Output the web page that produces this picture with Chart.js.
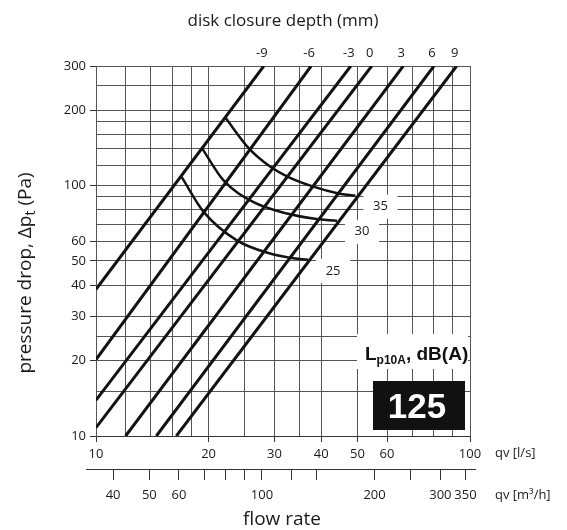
<!DOCTYPE html>
<html><head><meta charset="utf-8">
<script src="https://cdn.jsdelivr.net/npm/chart.js@4.4.1/dist/chart.umd.min.js"></script>
<style>html,body{margin:0;padding:0;background:#fff;}#wrap{width:567px;height:530px;}</style>
</head><body><div id="wrap"><canvas id="c" width="567" height="530"></canvas></div>
<script>
// ---- data ----
const closureLabels = ['-9', '-6', '-3', '0', '3', '6', '9'];
const lineStartQ = [10, 10, 10, 10, 12, 14.5, 16.4];      // l/s
const lineStartP = [38.5, 20.2, 13.9, 10.8, 10, 10, 10];  // Pa
const lineEndQ = [28.1, 37.6, 48.0, 54.6, 66.3, 80.1, 92.1];
const lineEndP = [300, 300, 300, 300, 300, 300, 300];

const soundLevels = ['35', '30', '25'];
const curve35Q = [22.1, 25.6, 29.2, 32.7, 38.1, 44.5, 49.4];
const curve35P = [188, 141, 119, 108, 99, 93, 91];
const curve30Q = [19.2, 21.9, 26.3, 32.4, 38.1, 44.1];
const curve30P = [141, 105, 86, 77.3, 73.8, 72.3];
const curve25Q = [16.95, 19.4, 23.8, 29.2, 33.0, 36.9];
const curve25P = [108, 78.5, 60.4, 53.5, 51.5, 50.5];

const yGrid = [10, 15, 20, 25, 30, 40, 50, 60, 70, 80, 90, 100, 120, 140, 160, 180, 200, 250, 300];
const yLabels = [10, 20, 30, 40, 50, 60, 100, 200, 300];
const xGrid = [10, 12, 14, 16, 18, 20, 25, 30, 35, 40, 50, 60, 70, 80, 90, 100];
const xLabels = [10, 20, 30, 40, 50, 60, 100];
const x2Grid = [40, 50, 60, 70, 80, 90, 100, 120, 140, 200, 250, 300, 350];
const x2Labels = [40, 50, 60, 100, 200, 300, 350];
const sizeLabel = '125';

// ---- chart ----
const FONT = '"Open Sans", "DejaVu Sans", sans-serif';
const BOLD = '"Liberation Sans", Arial, sans-serif';
const TXT = '#1a1a1a';
const GRID = '#555555';

const datasets = [];
closureLabels.forEach((lab, i) => {
  datasets.push({
    label: 'closure ' + lab,
    data: [{x: lineStartQ[i], y: lineStartP[i]}, {x: lineEndQ[i], y: lineEndP[i]}],
    showLine: true, borderColor: '#121212', borderWidth: 3, pointRadius: 0, borderCapStyle: 'butt'
  });
});
const curves = [[curve35Q, curve35P], [curve30Q, curve30P], [curve25Q, curve25P]];
curves.forEach((c, i) => {
  datasets.push({
    label: soundLevels[i] + ' dB(A)',
    data: c[0].map((q, k) => ({x: q, y: c[1][k]})),
    showLine: true, borderColor: '#121212', borderWidth: 2.5, pointRadius: 0,
    cubicInterpolationMode: 'monotone'
  });
});

const decor = {
  id: 'decor',
  afterDatasetsDraw(chart) {
    const ctx = chart.ctx, xs = chart.scales.x, ys = chart.scales.y, x2 = chart.scales.x2;
    ctx.save();
    // second axis line (extends a little past the plot)
    ctx.strokeStyle = '#333'; ctx.lineWidth = 1;
    ctx.beginPath(); ctx.moveTo(86, x2.top + 0.5); ctx.lineTo(476, x2.top + 0.5); ctx.stroke();

    ctx.fillStyle = TXT;
    ctx.textAlign = 'center'; ctx.textBaseline = 'middle';
    // closure depth labels at the top end of each line
    ctx.font = '13px ' + FONT;
    closureLabels.forEach((t, i) => {
      ctx.fillText(t, xs.getPixelForValue(lineEndQ[i]) - 2, 53);
    });
    // sound level labels with white boxes
    curves.forEach((c, i) => {
      const n = c[0].length;
      const px = xs.getPixelForValue(c[0][n - 1]) + 25;
      const py = ys.getPixelForValue(c[1][n - 1]) + 11;
      ctx.fillStyle = '#fff'; ctx.fillRect(px - 17, py - 12, 34, 24);
      ctx.fillStyle = TXT; ctx.fillText(soundLevels[i], px, py);
    });
    // legend label L p10A, dB(A)
    ctx.fillStyle = '#fff'; ctx.fillRect(357, 334, 111, 35);
    ctx.fillStyle = '#111'; ctx.textAlign = 'left'; ctx.textBaseline = 'alphabetic';
    let x = 365;
    ctx.font = 'bold 19px ' + BOLD; ctx.fillText('L', x, 360); x += ctx.measureText('L').width;
    ctx.font = 'bold 12px ' + BOLD; ctx.fillText('p10A', x, 364); x += ctx.measureText('p10A').width;
    ctx.font = 'bold 19px ' + BOLD; ctx.fillText(', dB(A)', x, 360);
    // size box
    ctx.fillStyle = '#111'; ctx.fillRect(373, 381, 92, 49);
    ctx.fillStyle = '#fff'; ctx.textAlign = 'center'; ctx.textBaseline = 'alphabetic';
    ctx.font = 'bold 35px ' + BOLD; ctx.fillText(sizeLabel, 417, 418);

    // axis unit labels
    ctx.fillStyle = TXT; ctx.textAlign = 'left'; ctx.textBaseline = 'middle';
    ctx.font = '13px ' + FONT;
    ctx.fillText('qv [l/s]', 495, 453);
    ctx.fillText('qv [m³/h]', 495, 495);
    // titles
    ctx.textAlign = 'center'; ctx.textBaseline = 'alphabetic';
    ctx.font = '17px ' + FONT;
    ctx.fillText('disk closure depth (mm)', 283, 26);
    ctx.font = '19px ' + FONT;
    ctx.fillText('flow rate', 282, 525);
    // rotated y title with subscript
    ctx.translate(31, 273); ctx.rotate(-Math.PI / 2);
    ctx.textAlign = 'left';
    const a = 'pressure drop, \u0394p', b = 't', cc = ' (Pa)';
    ctx.font = '19px ' + FONT; const wa = ctx.measureText(a).width, wc = ctx.measureText(cc).width;
    ctx.font = '14px ' + FONT; const wb = ctx.measureText(b).width;
    let sx = -(wa + wb + wc) / 2;
    ctx.font = '19px ' + FONT; ctx.fillText(a, sx, 0); sx += wa;
    ctx.font = '14px ' + FONT; ctx.fillText(b, sx, 4); sx += wb;
    ctx.font = '19px ' + FONT; ctx.fillText(cc, sx, 0);
    ctx.restore();
  }
};

const tickFont = {family: FONT, size: 13};
new Chart(document.getElementById('c'), {
  type: 'scatter',
  data: {datasets},
  options: {
    responsive: false, animation: false, devicePixelRatio: 1,
    layout: {padding: {left: 0, top: 66, right: 97, bottom: 21}},
    plugins: {legend: {display: false}, tooltip: {enabled: false}, title: {display: false}},
    scales: {
      x: {
        type: 'logarithmic', position: 'bottom', min: 10, max: 100, weight: 0,
        afterBuildTicks: s => { s.ticks = xGrid.map(v => ({value: v})); },
        afterFit: s => { s.height = 33; },
        ticks: {autoSkip: false, maxRotation: 0, padding: 4, color: TXT, font: tickFont,
          callback: v => xLabels.includes(v) ? String(v) : ''},
        grid: {color: GRID, lineWidth: 1, drawTicks: true, tickLength: 6,
          tickColor: c => (c.tick && xLabels.includes(c.tick.value)) ? '#333' : 'rgba(0,0,0,0)'},
        border: {display: true, color: '#333', width: 1}
      },
      x2: {
        type: 'logarithmic', position: 'bottom', min: 36, max: 360, weight: 1,
        afterBuildTicks: s => { s.ticks = x2Grid.map(v => ({value: v})); },
        afterFit: s => { s.height = 40; },
        ticks: {autoSkip: false, maxRotation: 0, padding: 7, color: TXT, font: tickFont,
          callback: v => x2Labels.includes(v) ? String(v) : ''},
        grid: {drawOnChartArea: false, drawTicks: true, tickLength: 11, tickColor: '#333', lineWidth: 1},
        border: {display: false}
      },
      y: {
        type: 'logarithmic', position: 'left', min: 10, max: 300,
        afterBuildTicks: s => { s.ticks = yGrid.map(v => ({value: v})); },
        afterFit: s => { s.width = 96; },
        ticks: {autoSkip: false, padding: 4, color: TXT, font: tickFont,
          callback: v => yLabels.includes(v) ? String(v) : ''},
        grid: {color: GRID, lineWidth: 1, drawTicks: true, tickLength: 6,
          tickColor: c => (c.tick && yLabels.includes(c.tick.value)) ? '#333' : 'rgba(0,0,0,0)'},
        border: {display: true, color: GRID, width: 1}
      }
    }
  },
  plugins: [decor]
});
</script></body></html>
